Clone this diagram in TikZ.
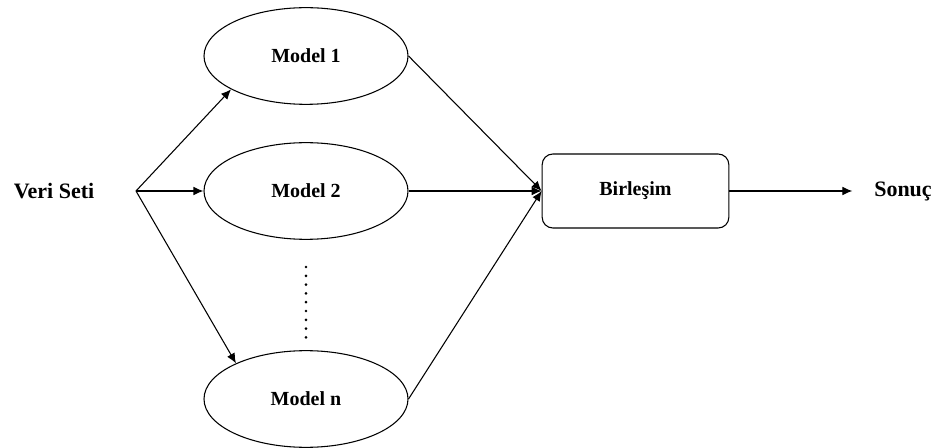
\documentclass[tikz,border=0pt]{standalone}
\usepackage{fontspec}
\setmainfont{Liberation Serif}
\usetikzlibrary{arrows.meta,positioning,shapes.geometric}
\begin{document}
\begin{tikzpicture}[x=0.75pt,y=-0.75pt,>={Latex[length=7.5pt,width=6.5pt]},line width=0.8pt,every node/.style={font=\fontsize{15}{17}\selectfont\bfseries},model/.style={draw,ellipse,minimum width=153pt,minimum height=72.5pt,inner sep=0pt},combbox/.style={draw,rounded corners=8pt,minimum width=140pt,minimum height=55.5pt},endlbl/.style={inner sep=0pt,font=\fontsize{16.5}{18}\selectfont\bfseries},dots/.style={line width=2.2pt,dash pattern=on 0pt off 6.6pt,line cap=round}]
\useasboundingbox (0,0) rectangle (944,448);
\node[endlbl] (data) at (54,191) {Veri Seti};
\coordinate (split) at (136,191);
\node[model] (m1) at (306,56) {Model 1};
\node[model] (m2) at (306,191) {Model 2};
\node[model] (mn) at (306,399) {Model n};
\coordinate (dtop) at (306,267);
\coordinate (dbot) at (306,338);
\node[combbox] (comb) at (635.5,191) {Birleşim};
\node[endlbl] (result) at (903,191) {Sonuç};
\draw[->] (split)--(m1.204);
\draw[->] (split)--(m2);
\draw[->] (split)--(mn.153);
\draw[dots] (dtop)--(dbot);
\draw[->] (m1.east)--(comb.west);
\draw[->] (m2)--(comb);
\draw[->] (mn.east)--(comb.west);
\draw[->,shorten >=16pt] (comb)--(result);
\end{tikzpicture}
\end{document}
